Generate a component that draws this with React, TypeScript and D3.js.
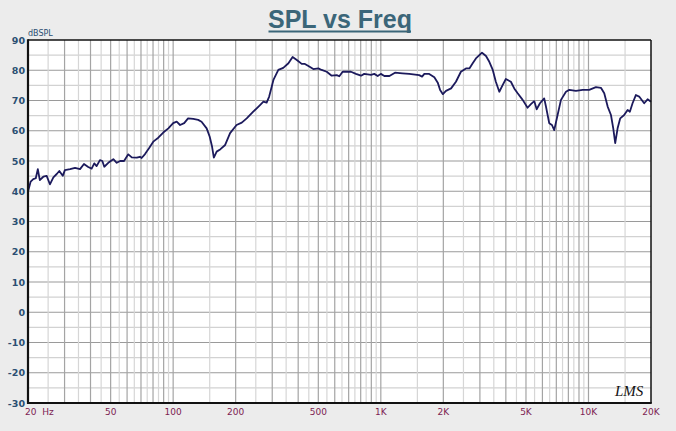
import * as d3 from 'd3';

const freqHz = [
	20, 20.6, 21.2, 21.8, 22.3, 22.8, 23.7, 24.6, 25.5, 26.5, 27.5, 28.3, 29.4, 30.1, 31.9, 33.7,
	35.6, 37.2, 39, 40.5, 41.7, 42.8, 44.4, 45.6, 46.6, 48.7, 51.5, 53.5, 55.5, 58, 60.8, 63.2,
	66.8, 69.2, 70.5, 73.2, 76.5, 80.2, 84.8, 89.6, 94.8, 100, 104, 108, 113, 118, 125, 132,
	137, 145, 150, 154, 157, 162, 169, 178, 188, 202, 214, 226, 243, 262, 272, 282,
	290, 304, 321, 339, 359, 376, 394, 416, 431, 448, 473, 500, 519, 549, 580, 613,
	631, 655, 718, 759, 803, 832, 897, 930, 966, 1000, 1040, 1100, 1170, 1270, 1370, 1530,
	1580, 1620, 1710, 1810, 1880, 1930, 1990, 2060, 2180, 2300, 2430, 2570, 2670, 2770, 2870, 3070,
	3210, 3330, 3460, 3580, 3720, 3860, 4000, 4230, 4390, 4560, 4820, 5090, 5280, 5480, 5630, 5840,
	6120, 6240, 6470, 6670, 6840, 7100, 7370, 7790, 8080, 8700, 9370, 10080, 10860, 11480, 11910, 12370,
	12830, 13160, 13450, 13810, 14220, 14850, 15430, 15820, 16300, 16910, 17540, 18540, 19260, 20000,
];

const splDb = [
	39.9, 43.2, 44, 44.3, 47.3, 43.7, 44.8, 45.1, 42.3, 44.6, 45.7, 46.7, 45.1, 47, 47.3, 47.7,
	47.3, 49, 48, 47.5, 49.2, 48.3, 50.3, 50, 48.1, 49.4, 50.6, 49.4, 50, 50, 52.2, 51.2,
	51.1, 51.4, 51, 52.3, 54.2, 56.4, 57.7, 59.4, 60.8, 62.5, 63, 61.9, 62.5, 64.1, 63.9, 63.6,
	63, 60.8, 58, 54.7, 51.1, 53.1, 53.9, 55.3, 59.2, 61.9, 62.7, 64.1, 66.3, 68.5, 69.6, 69.3,
	71.3, 76.8, 80.1, 80.8, 82.3, 84.4, 83.4, 82.1, 82.1, 81.4, 80.4, 80.6, 80.1, 79.5, 78.2, 78.4,
	78, 79.5, 79.5, 78.8, 78.2, 78.8, 78.5, 78.8, 78.1, 78.8, 78.1, 78.1, 79.2, 79, 78.8, 78.4,
	77.9, 78.8, 78.8, 77.7, 75.9, 73.5, 72.1, 73.2, 74, 76.2, 79.5, 80.6, 80.6, 82.3, 83.9, 85.8,
	84.7, 82.8, 80.1, 76.2, 72.9, 75.1, 77.1, 76.2, 74, 72.4, 70.2, 67.6, 68.8, 69.8, 67.1, 69.1,
	70.7, 68, 62.5, 61.9, 60.2, 65.2, 70.2, 72.9, 73.5, 73.2, 73.5, 73.5, 74.4, 74.2, 72.4, 68,
	65.2, 60.8, 55.9, 60.8, 64.1, 65.2, 66.9, 66.3, 69.1, 71.8, 71.3, 69.1, 70.4, 69.6,
];

const xTickValues = [20, 50, 100, 200, 500, 1000, 2000, 5000, 10000, 20000];
const xTickLabels = ['20  Hz', '50', '100', '200', '500', '1K', '2K', '5K', '10K', '20K'];
const yTickValues = [90, 80, 70, 60, 50, 40, 30, 20, 10, 0, -10, -20, -30];

const W = 676;
const H = 431;
const left = 28;
const right = 651;
const top = 40;
const bottom = 403;

export default function App() {
	const x = d3.scaleLog().domain([20, 20000]).range([left, right]);
	const y = d3.scaleLinear().domain([-30, 90]).range([bottom, top]);

	// LMS grid: every half step within each decade
	const vGrid: { f: number; major: boolean }[] = [];
	for (const dec of [10, 100, 1000, 10000]) {
		for (let m = 1; m < 10; m += 0.5) {
			const f = m * dec;
			if (f > 20 && f < 20000) vGrid.push({ f, major: Number.isInteger(m) });
		}
	}
	const hGrid = d3.range(-25, 90, 5);

	const line = d3
		.line<number>()
		.x((_, i) => x(freqHz[i]))
		.y((d) => y(d));

	return (
		<div style={{ position: 'absolute', left: 0, top: 0 }}>
			<svg width={W} height={H} style={{ display: 'block' }}>
				<rect width={W} height={H} fill='#ececec' />
				<rect x={left} y={top} width={right - left} height={bottom - top} fill='#fff' />

				{hGrid.map((v) => (
					<line
						key={'h' + v}
						x1={left}
						x2={right}
						y1={y(v)}
						y2={y(v)}
						stroke={v % 10 === 0 ? '#9a9a9a' : '#d2d2d2'}
						strokeWidth={1.2}
					/>
				))}
				{vGrid.map((g) => (
					<line
						key={'v' + g.f}
						x1={x(g.f)}
						x2={x(g.f)}
						y1={top}
						y2={bottom}
						stroke={g.major ? '#a4a4a4' : '#d6d6d6'}
						strokeWidth={1.2}
					/>
				))}

				<path d={line(splDb) ?? ''} fill='none' stroke='#1c1a5c' strokeWidth={1.8} strokeLinejoin='round' />

				{/* frame */}
				<line x1={left} x2={right} y1={top} y2={top} stroke='#111' strokeWidth={1.5} />
				<line x1={right} x2={right} y1={top} y2={bottom} stroke='#111' strokeWidth={1.5} />
				<line x1={left} x2={left} y1={top - 0.75} y2={bottom + 1} stroke='#111' strokeWidth={2.2} />
				<line x1={left} x2={right + 0.75} y1={bottom} y2={bottom} stroke='#111' strokeWidth={2.2} />

				<g fontFamily='"DejaVu Sans", Verdana, sans-serif' fontSize={9.5} fontWeight='bold'>
					{yTickValues.map((v) => (
						<text key={'yt' + v} x={25} y={y(v)} textAnchor='end' dominantBaseline='central' fill='#2b4f72'>
							{v}
						</text>
					))}
					<text x={28} y={36} fontSize={8} fill='#2b4f72' fontWeight='normal'>
						dBSPL
					</text>
					{xTickValues.map((v, i) => (
						<text
							key={'xt' + v}
							x={i === 0 ? 25 : x(v)}
							y={415}
							textAnchor={i === 0 ? 'start' : 'middle'}
							fill='#7c2352'
							fontWeight='normal'
							fontSize={9}
							style={{ whiteSpace: 'pre' }}
						>
							{xTickLabels[i]}
						</text>
					))}
				</g>

				<text
					x={340}
					y={28}
					textAnchor='middle'
					fontFamily='"Liberation Sans", Arial, sans-serif'
					fontWeight='bold'
					fontSize={25}
					fill='#3b6679'
				>
					SPL vs Freq
				</text>
				<line x1={268.5} x2={411} y1={31.5} y2={31.5} stroke='#3b6679' strokeWidth={2} />

				<text
					x={615}
					y={396}
					fontFamily='"Liberation Serif", serif'
					fontStyle='italic'
					fontSize={15}
					fill='#111'
				>
					LMS
				</text>
			</svg>
		</div>
	);
}
